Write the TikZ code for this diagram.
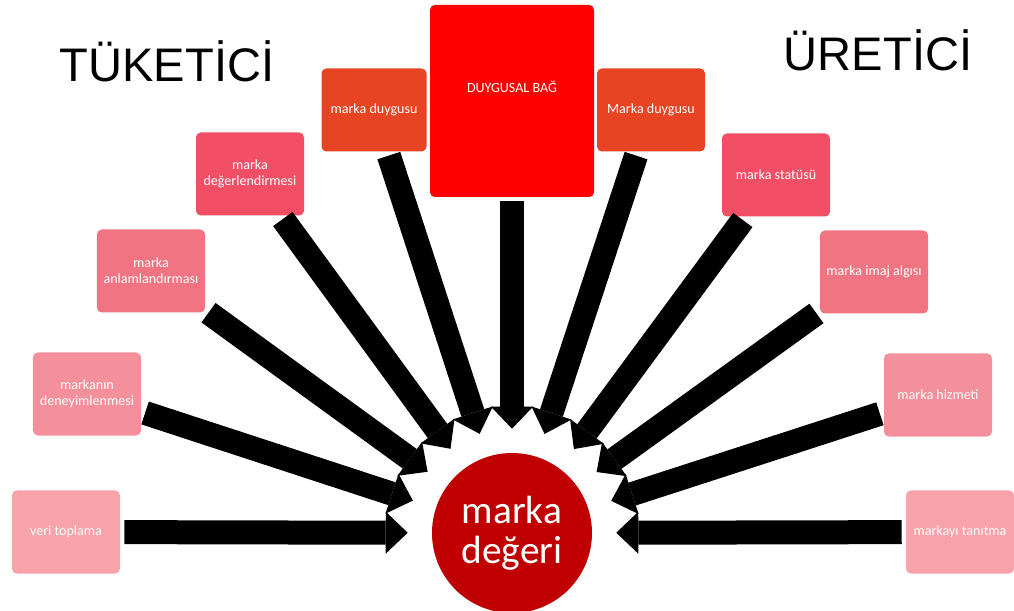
\documentclass[tikz,border=0pt]{standalone}
\usepackage{fontspec}
\setmainfont{Carlito}
\newfontfamily\titlefont{Liberation Sans}
\usetikzlibrary{arrows.meta}
\definecolor{pinkA}{HTML}{F8A2AA}
\definecolor{pinkB}{HTML}{F4909B}
\definecolor{pinkC}{HTML}{F07482}
\definecolor{pinkD}{HTML}{F24F66}
\definecolor{orng}{HTML}{E64422}
\definecolor{redbig}{HTML}{FF0000}
\definecolor{deepred}{HTML}{C00000}
\tikzset{
  box/.style={fill=#1, rounded corners=1.2mm, text=white, align=center,
    font=\fontsize{10}{11.5}\selectfont, minimum width=27mm, minimum height=20.75mm, inner sep=0.5mm},
  bigarrow/.style={line width=6mm, -{Triangle[width=10.5mm,length=5.5mm,line width=0pt]},
    shorten <=1mm, shorten >=6mm},
  title/.style={font=\titlefont\fontsize{33.5}{36}\selectfont}
}
\begin{document}
\begin{tikzpicture}[x=0.25mm,y=-0.25mm]
\useasboundingbox (0,0) rectangle (1014,611);
\clip (0,0) rectangle (1014,611);
\node[title] (cons) at (167,61) {TÜKETİCİ};
\node[title] (prod) at (878,50) {ÜRETİCİ};
\node[circle, fill=deepred, minimum size=40mm, text=white, align=center,
  font=\fontsize{28}{28.5}\selectfont] (deger) at (512,533) {marka\\değeri};
\node[box=pinkA] (veri) at (66,532) {veri toplama};
\node[box=pinkB] (deney) at (87,394) {markanın\\deneyimlenmesi};
\node[box=pinkC] (anlam) at (151,271) {marka\\anlamlandırması};
\node[box=pinkD] (degerl) at (250,174) {marka\\değerlendirmesi};
\node[box=orng, minimum width=26.25mm] (duyguL) at (374,110) {marka duygusu};
\node[box=redbig, minimum width=41mm, minimum height=48mm, text height=2.5mm, text depth=6.8mm] (bag) at (512,101) {DUYGUSAL BAĞ};
\node[box=orng] (duyguR) at (651,110) {Marka duygusu};
\node[box=pinkD] (statu) at (776,175) {marka statüsü};
\node[box=pinkC] (imaj) at (874,272) {marka imaj algısı};
\node[box=pinkB] (hizmet) at (938,395) {marka hizmeti};
\node[box=pinkA] (tanit) at (960,532) {markayı tanıtma};
\foreach \b in {veri,deney,anlam,degerl,duyguL,bag,duyguR,statu,imaj,hizmet,tanit}
  \draw[bigarrow] (\b) -- (deger);
\end{tikzpicture}
\end{document}
